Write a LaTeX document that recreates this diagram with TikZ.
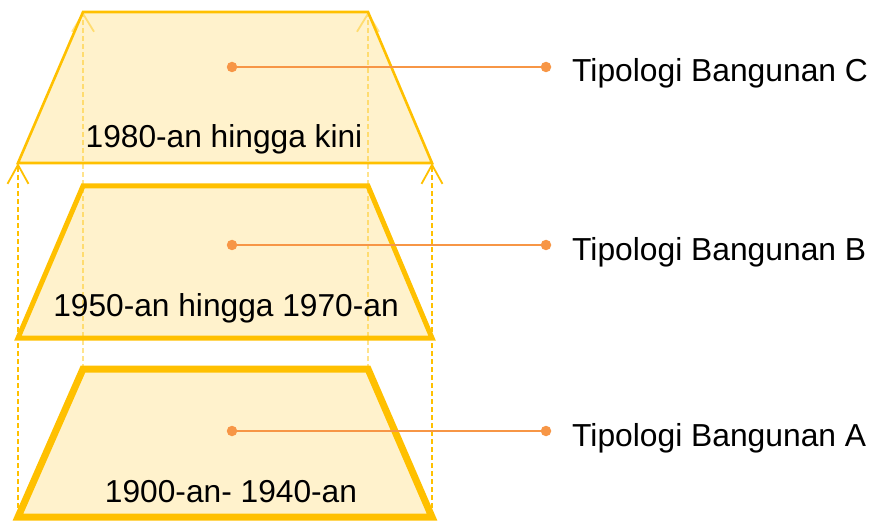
\documentclass[tikz,border=0pt]{standalone}
\usepackage{fontspec}
\setmainfont{Liberation Sans}
\usetikzlibrary{arrows.meta}
\definecolor{gold}{HTML}{FFC000}
\definecolor{cream}{HTML}{FFF2CC}
\definecolor{lightgold}{HTML}{FFE38C}
\definecolor{orng}{HTML}{F79646}
\tikzset{
  trap/.style={draw=gold, fill=gold, fill opacity=0.2, draw opacity=1, line join=miter},
  outerdash/.style={draw=gold, line width=1.8pt, dash pattern=on 5pt off 3pt, -{Straight Barb[length=19pt,width=21pt]}},
  innerdash/.style={draw=lightgold, line width=1.8pt, dash pattern=on 5pt off 3pt, -{Straight Barb[length=18pt,width=22pt]}},
  leader/.style={draw=orng, line width=1.9pt},
  dotmark/.style={circle, fill=orng, inner sep=0pt, minimum size=10.5pt},
  lbl/.style={inner sep=0pt, anchor=base, font=\fontsize{31.7}{38}\selectfont, text=black},
  rlbl/.style={inner sep=0pt, anchor=base west, font=\fontsize{31.8}{38}\selectfont, text=black}
}
\begin{document}
\begin{tikzpicture}[x=1pt,y=1pt]
\useasboundingbox (0,0) rectangle (872,520);
% corners
\coordinate (Ctl) at (83,508); \coordinate (Ctr) at (368,508);
\coordinate (Cbl) at (18,357); \coordinate (Cbr) at (432,357);
\coordinate (Btl) at (83,334); \coordinate (Btr) at (368,334);
\coordinate (Bbl) at (18,182); \coordinate (Bbr) at (432,182);
\coordinate (Atl) at (83,151); \coordinate (Atr) at (368,151);
\coordinate (Abl) at (18,3);   \coordinate (Abr) at (432,3);
\coordinate (Ostartl) at (18,12); \coordinate (Ostartr) at (432,12);
% dashed guide lines (behind)
\draw[innerdash] (Atl) -- (Ctl);
\draw[innerdash] (Atr) -- (Ctr);
\draw[outerdash] (Ostartl) -- (Cbl);
\draw[outerdash] (Ostartr) -- (Cbr);
% trapezoids
\path[trap, line width=2.6pt] (Ctl) -- (Ctr) -- (Cbr) -- (Cbl) -- cycle;
\path[trap, line width=5pt] (Btl) -- (Btr) -- (Bbr) -- (Bbl) -- cycle;
\path[trap, line width=7pt] (Atl) -- (Atr) -- (Abr) -- (Abl) -- cycle;
% period labels
\node[lbl] (pc) at (224,372) {1980-an hingga kini};
\node[lbl] (pb) at (226,204) {1950-an hingga 1970-an};
\node[lbl] (pa) at (231,18) {1900-an- 1940-an};
% leaders
\node[dotmark] (dc1) at (232,453) {};
\node[dotmark] (dc2) at (546,453) {};
\node[dotmark] (db1) at (232,275) {};
\node[dotmark] (db2) at (546,275) {};
\node[dotmark] (da1) at (232,89) {};
\node[dotmark] (da2) at (546,89) {};
\draw[leader] (dc1.center) -- (dc2.center);
\draw[leader] (db1.center) -- (db2.center);
\draw[leader] (da1.center) -- (da2.center);
% type labels
\node[rlbl] (tc) at (572,438) {Tipologi Bangunan C};
\node[rlbl] (tb) at (572,260) {Tipologi Bangunan B};
\node[rlbl] (ta) at (572,74) {Tipologi Bangunan A};
\end{tikzpicture}
\end{document}
